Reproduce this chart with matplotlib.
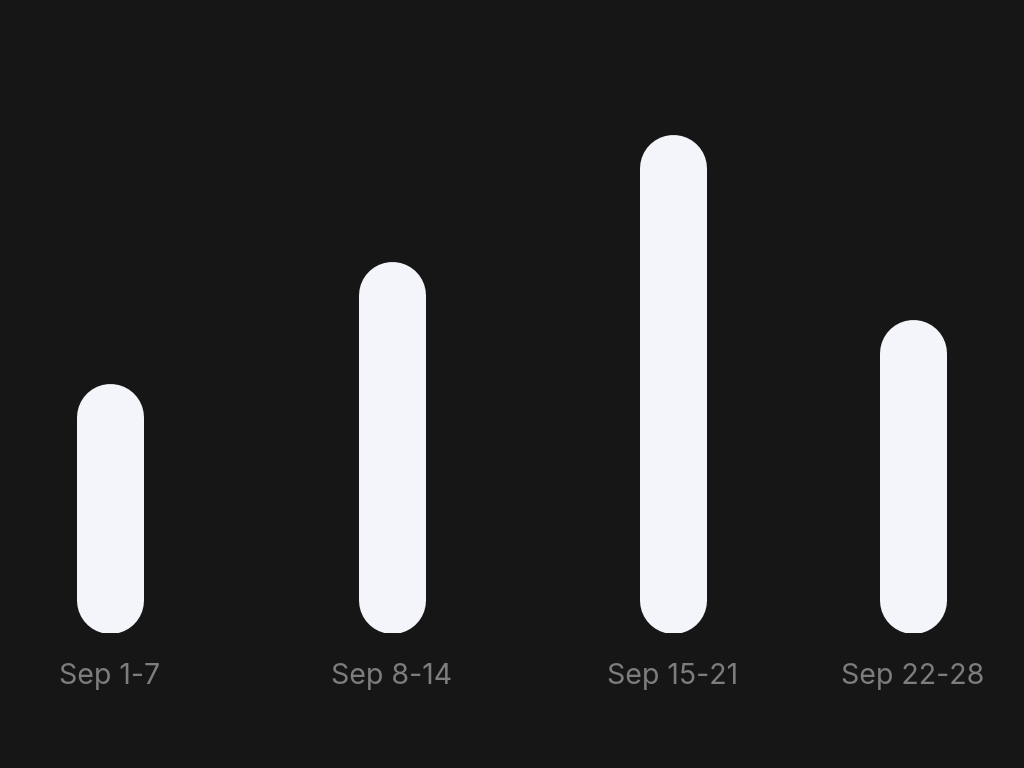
import matplotlib.pyplot as plt

# weekly totals
weeks = ['Sep 1-7', 'Sep 8-14', 'Sep 15-21', 'Sep 22-28']
values = [25.0, 37.2, 49.9, 31.4]

bg = '#161616'
bar_color = '#f4f5fa'
label_color = '#7d7d7d'

plt.rcParams['font.family'] = ['Inter', 'DejaVu Sans']

fig = plt.figure(figsize=(10.24, 7.68), dpi=100, facecolor=bg)
ax = fig.add_axes([0, 135 / 768, 1, 600 / 768])
ax.set_facecolor(bg)
ax.set_xlim(-0.3908, 3.2469)
ax.set_ylim(0, 60)
ax.axis('off')

pos = [0, 1, 2, 2.853]
bar_px = 67
lw = bar_px * 72 / fig.dpi

# radius of the round cap, in data units
px_per_unit = ax.transData.transform((0, 1))[1] - ax.transData.transform((0, 0))[1]
r = (bar_px / 2) / px_per_unit

for x, v, lab in zip(pos, values, weeks):
    ax.plot([x, x], [r, v - r], color=bar_color, lw=lw, solid_capstyle='round')
    ax.text(x, -4.4, lab, ha='center', va='center', color=label_color,
            fontsize=20.5, clip_on=False)

fig.savefig('out.png', dpi=100, facecolor=bg)
